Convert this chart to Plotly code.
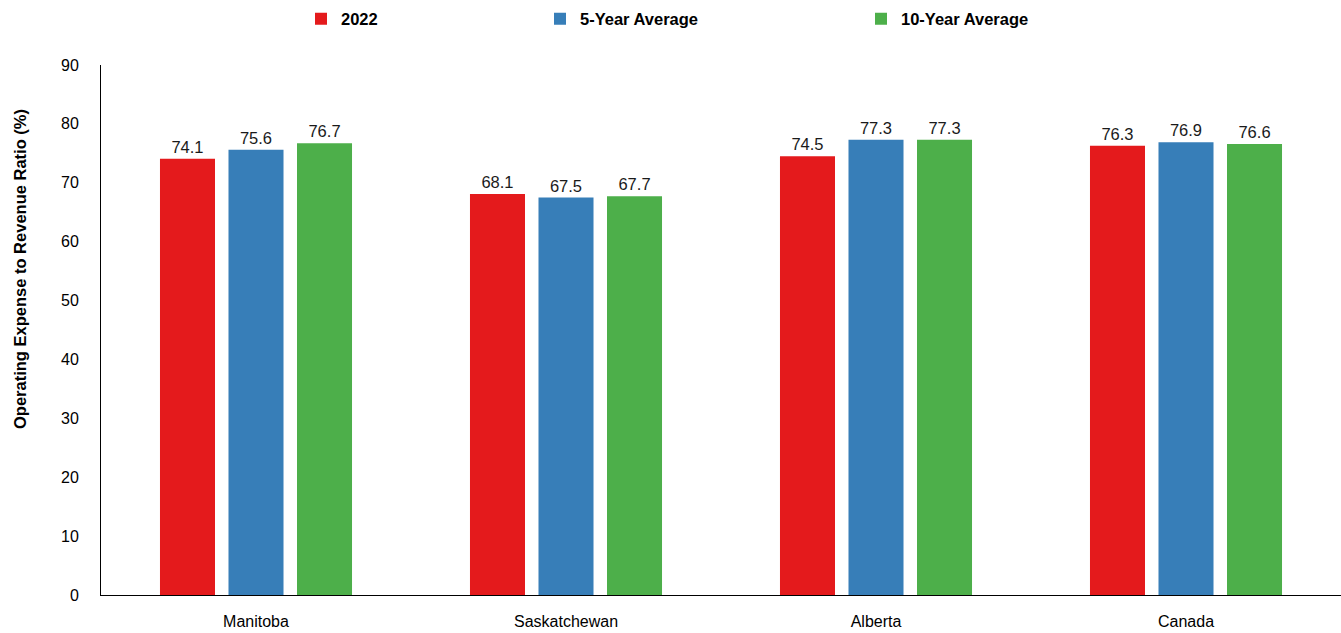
import plotly.graph_objects as go

categories = ["Manitoba", "Saskatchewan", "Alberta", "Canada"]
series_names = ["2022", "5-Year Average", "10-Year Average"]
values_2022 = [74.1, 68.1, 74.5, 76.3]
values_5yr = [75.6, 67.5, 77.3, 76.9]
values_10yr = [76.7, 67.7, 77.3, 76.6]
y_ticks = [0, 10, 20, 30, 40, 50, 60, 70, 80, 90]

colors = ["#E41A1C", "#377EB8", "#4DAF4A"]
FONT = "Liberation Sans Narrow, Arial Narrow, Liberation Sans, Arial, sans-serif"

W, H = 1341, 633
ML, MR, MT, MB = 101, 0, 65, 38
PW = W - ML - MR
PH = H - MT - MB

def px_x(p):
    return (p - ML) / PW

def px_y(p):
    return (H - MB - p) / PH

fig = go.Figure()
legend_ids = ["legend", "legend2", "legend3"]
for name, vals, col, lg in zip(series_names, [values_2022, values_5yr, values_10yr], colors, legend_ids):
    fig.add_trace(go.Bar(
        x=categories, y=vals, name=name,
        marker=dict(color=col, line=dict(width=0)),
        text=[f"{v:.1f}" for v in vals],
        textposition="outside",
        textfont=dict(family=FONT, size=16.5, color="#1a1a1a"),
        cliponaxis=False,
        legend=lg,
    ))

legend_text_x = [337, 576, 897]
common_leg = dict(orientation="h", yanchor="middle", y=px_y(19), xanchor="left",
                  font=dict(family=FONT, size=16.5, color="#000000", weight="bold"),
                  bgcolor="rgba(0,0,0,0)", itemwidth=30, tracegroupgap=0)
layout_legends = {}
for lg, tx in zip(legend_ids, legend_text_x):
    layout_legends[lg] = dict(common_leg, x=px_x(tx - 36))

fig.update_layout(
    width=W, height=H,
    margin=dict(l=ML, r=MR, t=MT, b=MB, pad=0),
    plot_bgcolor="white", paper_bgcolor="white",
    barmode="group", bargap=0.337, bargroupgap=0.197,
    showlegend=True,
    font=dict(family=FONT, size=16, color="#000000"),
    **layout_legends,
)
fig.update_yaxes(
    range=[0, 90], tickvals=y_ticks, showgrid=False, zeroline=False,
    showline=True, linecolor="#000000", linewidth=1,
    ticks="", ticklabelstandoff=18,
    tickfont=dict(family=FONT, size=16, color="#000000"),
)
fig.update_xaxes(
    showgrid=False, showline=True, linecolor="#000000", linewidth=1,
    ticks="", ticklabelstandoff=12,
    tickfont=dict(family=FONT, size=16, color="#000000"),
)
fig.add_annotation(
    text="Operating Expense to Revenue Ratio (%)",
    xref="paper", yref="paper", x=px_x(20), y=px_y(269),
    xanchor="center", yanchor="middle", textangle=-90, showarrow=False,
    font=dict(family=FONT, size=16.5, color="#000000", weight="bold"),
)

fig.write_html("out.html")
